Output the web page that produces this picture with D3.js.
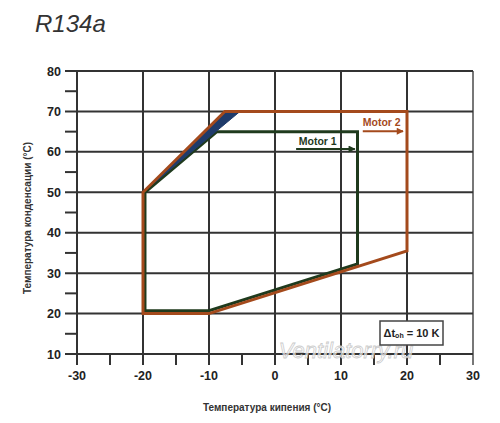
<!DOCTYPE html>
<html>
<head>
<meta charset="utf-8">
<script src="https://cdn.jsdelivr.net/npm/d3@7"></script>
<style>
  body { margin: 0; background: #fff; }
  text { font-family: "Liberation Sans", Arial, sans-serif; }
</style>
</head>
<body>
<svg id="chart" width="500" height="423"></svg>
<script>
// envelope corners
const motor2X = [-7.6, 20, 20, -10, -20, -20];
const motor2Y = [70, 70, 35.5, 20, 20, 50];
const motor1X = [-8.8, 12.5, 12.5, -10, -19.7, -19.7];
const motor1Y = [65, 65, 32.3, 20.7, 20.7, 50];
const bandX = [-20, -7.6, -5.3];
const bandY = [50, 70, 70];

const xTicks = [-30, -20, -10, 0, 10, 20, 30];
const yTicks = [10, 20, 30, 40, 50, 60, 70, 80];
const xMinor = [-25, -15, -5, 5, 15, 25];
const yMinor = [15, 25, 35, 45, 55, 65, 75];

const margin = {top: 71, right: 27, bottom: 69, left: 77};
const width = 500 - margin.left - margin.right;
const height = 423 - margin.top - margin.bottom;

const svg = d3.select('#chart');
const g = svg.append('g')
    .attr('transform', `translate(${margin.left},${margin.top})`);

const x = d3.scaleLinear().domain([-30, 30]).range([0, width]);
const y = d3.scaleLinear().domain([10, 80]).range([height, 0]);

const gridColor = '#333';
const orange = '#a44a1c';
const green = '#1f3a1d';
const blue = '#1f3b6b';

svg.append('text')
    .attr('x', 35).attr('y', 32)
    .attr('font-size', 24)
    .attr('font-style', 'italic')
    .attr('fill', '#333')
    .text('R134a');

// grid
g.selectAll('.vgrid')
    .data(xTicks)
    .join('line')
    .attr('class', 'vgrid')
    .attr('x1', d => x(d)).attr('x2', d => x(d))
    .attr('y1', 0).attr('y2', height + 11)
    .attr('stroke', d => d === 30 ? '#777' : gridColor)
    .attr('stroke-width', 2);

g.selectAll('.hgrid')
    .data(yTicks)
    .join('line')
    .attr('class', 'hgrid')
    .attr('x1', -12).attr('x2', width)
    .attr('y1', d => y(d)).attr('y2', d => y(d))
    .attr('stroke', gridColor)
    .attr('stroke-width', 2);

g.selectAll('.xminor')
    .data(xMinor)
    .join('line')
    .attr('class', 'xminor')
    .attr('x1', d => x(d)).attr('x2', d => x(d))
    .attr('y1', height).attr('y2', height + 11)
    .attr('stroke', gridColor)
    .attr('stroke-width', 2);

g.selectAll('.yminor')
    .data(yMinor)
    .join('line')
    .attr('class', 'yminor')
    .attr('x1', -12).attr('x2', 0)
    .attr('y1', d => y(d)).attr('y2', d => y(d))
    .attr('stroke', gridColor)
    .attr('stroke-width', 2);

// tick labels
g.selectAll('.xlab')
    .data(xTicks)
    .join('text')
    .attr('class', 'xlab')
    .attr('x', d => x(d))
    .attr('y', height + 26)
    .attr('text-anchor', 'middle')
    .attr('font-family', 'DejaVu Sans')
    .attr('font-weight', 'bold')
    .attr('font-size', 12.5)
    .attr('fill', '#222')
    .text(d => d);

g.selectAll('.ylab')
    .data(yTicks)
    .join('text')
    .attr('class', 'ylab')
    .attr('x', -16)
    .attr('y', d => y(d) + 4.5)
    .attr('text-anchor', 'end')
    .attr('font-family', 'DejaVu Sans')
    .attr('font-weight', 'bold')
    .attr('font-size', 12.5)
    .attr('fill', '#222')
    .text(d => d);

// axis titles
svg.append('text')
    .attr('x', 267).attr('y', 411)
    .attr('text-anchor', 'middle')
    .attr('font-weight', 'bold')
    .attr('font-size', 10)
    .attr('fill', '#333')
    .text('Температура кипения (°C)');

svg.append('text')
    .attr('transform', 'translate(31,218) rotate(-90)')
    .attr('text-anchor', 'middle')
    .attr('font-weight', 'bold')
    .attr('font-size', 10)
    .attr('fill', '#333')
    .text('Температура конденсации (°C)');

// watermark
svg.append('text')
    .attr('x', 346).attr('y', 358)
    .attr('text-anchor', 'middle')
    .attr('font-size', 22)
    .attr('font-style', 'italic')
    .attr('fill', '#fff')
    .attr('fill-opacity', 0.6)
    .attr('stroke', '#ccc')
    .attr('stroke-width', 0.8)
    .text('Ventilatorry.ru');

const line = d3.line()
    .x(d => x(d[0]))
    .y(d => y(d[1]))
    .curve(d3.curveLinearClosed);

const motor1 = d3.zip(motor1X, motor1Y);
const motor2 = d3.zip(motor2X, motor2Y);
const band = d3.zip(bandX, bandY);

g.append('path')
    .attr('d', line(motor1))
    .attr('fill', 'none')
    .attr('stroke', green)
    .attr('stroke-width', 3)
    .attr('stroke-linejoin', 'miter');

g.append('path')
    .attr('d', line(band))
    .attr('fill', blue)
    .attr('stroke', blue)
    .attr('stroke-width', 1);

g.append('path')
    .attr('d', line(motor2))
    .attr('fill', 'none')
    .attr('stroke', orange)
    .attr('stroke-width', 3)
    .attr('stroke-linejoin', 'miter');

// labels with arrows
const defs = svg.append('defs');
[['m1', green], ['m2', orange]].forEach(([id, c]) => {
    defs.append('marker')
        .attr('id', id)
        .attr('viewBox', '0 0 10 10')
        .attr('refX', 9).attr('refY', 5)
        .attr('markerWidth', 11).attr('markerHeight', 7)
        .attr('markerUnits', 'userSpaceOnUse')
        .attr('orient', 'auto')
        .append('path')
        .attr('d', 'M0,0L10,5L0,10Z')
        .attr('fill', c);
});

const labels = [
    {name: 'Motor 2', color: orange, marker: 'm2', tx: 13.3, ty: 66.4, ax0: 13.3, ax1: 19.4, ay: 65.1},
    {name: 'Motor 1', color: green, marker: 'm1', tx: 3.6, ty: 61.7, ax0: 3.2, ax1: 12.1, ay: 60.7}
];

labels.forEach(l => {
    g.append('text')
        .attr('x', x(l.tx)).attr('y', y(l.ty))
        .attr('font-weight', 'bold')
        .attr('font-size', 10.5)
        .attr('fill', l.color)
        .text(l.name);
    g.append('line')
        .attr('x1', x(l.ax0)).attr('x2', x(l.ax1))
        .attr('y1', y(l.ay)).attr('y2', y(l.ay))
        .attr('stroke', l.color)
        .attr('stroke-width', 2)
        .attr('marker-end', `url(#${l.marker})`);
});

// delta-t box
const box = svg.append('g').attr('transform', 'translate(380,321)');
box.append('rect')
    .attr('width', 63).attr('height', 24)
    .attr('fill', '#fff')
    .attr('stroke', '#444')
    .attr('stroke-width', 1.5);
const bt = box.append('text')
    .attr('x', 31.5).attr('y', 16)
    .attr('text-anchor', 'middle')
    .attr('font-size', 11)
    .attr('font-weight', 'bold')
    .attr('fill', '#222');
bt.append('tspan').text('Δt');
bt.append('tspan').attr('font-size', 7).attr('dy', 1).text('oh');
bt.append('tspan').attr('dy', -1).text(' = 10 K');
</script>
</body>
</html>
